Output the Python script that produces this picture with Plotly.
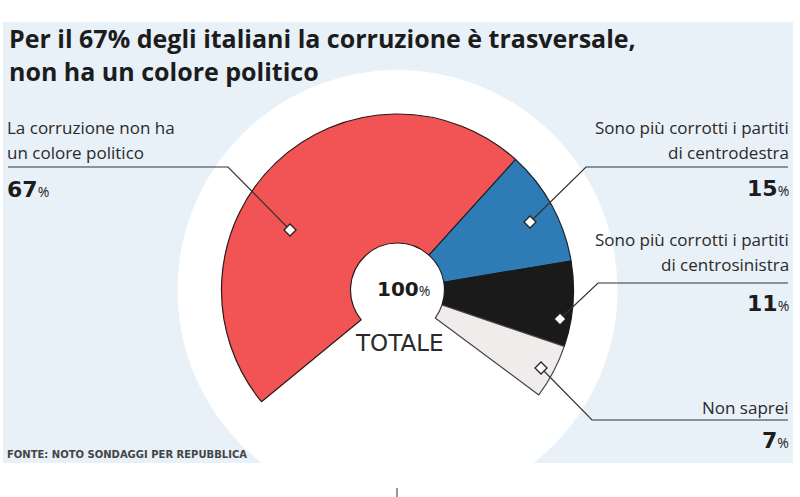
import plotly.graph_objects as go

# ---- data ----
categories = ["La corruzione non ha un colore politico",
              "Sono più corrotti i partiti di centrodestra",
              "Sono più corrotti i partiti di centrosinistra",
              "Non saprei"]
values = [67, 15, 11, 7]
colors = ["#f25455", "#2f7bb6", "#1b1a1a", "#efeceb"]
title_lines = ["Per il 67% degli italiani la corruzione è trasversale,",
               "non ha un colore politico"]
source = "FONTE: NOTO SONDAGGI PER REPUBBLICA"

# ---- layout constants (page pixel space) ----
W, H = 800, 497
cx, cy = 397.5, 290.0       # pie centre
R_out, R_in = 176.0, 47.0
sweep = 256.0               # degrees covered by the 100%
start = 230.6               # compass angle where first slice starts
total = sum(values)
gap = total * (360.0 / sweep - 1.0)

fig = go.Figure()

fig.add_trace(go.Pie(
    values=values + [gap],
    labels=categories + [""],
    sort=False,
    direction="clockwise",
    rotation=start,
    hole=R_in / R_out,
    textinfo="none",
    hoverinfo="skip",
    showlegend=False,
    marker=dict(colors=colors + ["rgba(0,0,0,0)"],
                line=dict(color=["#2a1a1a", "#1b2530", "#1b1a1a", "#444444", "rgba(0,0,0,0)"],
                          width=[1.2, 1.2, 1.2, 1.2, 0])),
    domain=dict(x=[(cx - R_out) / W, (cx + R_out) / W],
                y=[(H - cy - R_out) / H, (H - cy + R_out) / H]),
))

shapes = []
shapes.append(dict(type="rect", x0=3, x1=793, y0=22, y1=463, xref="x", yref="y",
                   fillcolor="#e8f0f8", line=dict(width=0), layer="below"))
Rw = 220
shapes.append(dict(type="circle", x0=cx - Rw, x1=cx + Rw, y0=cy - Rw, y1=cy + Rw,
                   xref="x", yref="y", fillcolor="white", line=dict(width=0), layer="below"))
shapes.append(dict(type="line", x0=397, x1=397, y0=488, y1=497, xref="x", yref="y",
                   line=dict(color="#999999", width=2), layer="above"))

leaders = [
    [(8, 167), (228, 167), (290, 230)],
    [(788, 167), (586, 167), (530, 222)],
    [(788, 283), (598, 283), (560, 319)],
    [(788, 420), (592, 420), (541, 368)],
]
for pts in leaders:
    path = "M {} {} L {} {} L {} {}".format(pts[0][0], pts[0][1], pts[1][0], pts[1][1],
                                           pts[2][0], pts[2][1])
    shapes.append(dict(type="path", path=path, xref="x", yref="y",
                       line=dict(color="#333333", width=1.2), layer="above"))
d = 6
for pts in leaders:
    x, y = pts[2]
    path = "M {} {} L {} {} L {} {} L {} {} Z".format(x, y - d, x + d, y, x, y + d, x - d, y)
    shapes.append(dict(type="path", path=path, xref="x", yref="y",
                       fillcolor="white", line=dict(color="#222222", width=1.3), layer="above"))

ann = []
def txt(x, y, s, size, anchor="left", color="#2a2a2a", family="Open Sans", ya="middle", align=None):
    if anchor == "left":
        x -= 3
    elif anchor == "right":
        x += 3
    a = dict(x=x, y=y, xref="x", yref="y", text=s, showarrow=False,
             xanchor=anchor, yanchor=ya,
             font=dict(family=family, size=size, color=color))
    if align:
        a["align"] = align
    ann.append(a)

# title (one text block, two lines)
txt(10, 54, "<b>" + "<br>".join(title_lines) + "</b>", 25, color="#1c1c1c", align="left")

def pct(v, small=14):
    return ("<b>{}</b><span style='font-family:Open Sans;font-size:{}px;font-weight:normal'>%</span>"
            .format(v, small))

LBL = 17
NUM = dict(family="DejaVu Sans", color="#1c1c1c")
txt(8, 127, "La corruzione non ha", LBL)
txt(8, 152, "un colore politico", LBL)
txt(8, 189, pct(values[0]), 22, **NUM)
txt(788, 127, "Sono più corrotti i partiti", LBL, anchor="right")
txt(788, 152, "di centrodestra", LBL, anchor="right")
txt(788, 188, pct(values[1]), 22, anchor="right", **NUM)
txt(788, 239, "Sono più corrotti i partiti", LBL, anchor="right")
txt(788, 264, "di centrosinistra", LBL, anchor="right")
txt(788, 303, pct(values[2]), 22, anchor="right", **NUM)
txt(788, 407, "Non saprei", LBL, anchor="right")
txt(788, 440, pct(values[3]), 22, anchor="right", **NUM)
txt(cx + 6, 289, pct(total), 20, anchor="center", **NUM)
txt(cx + 2, 343, "TOTALE", 23, anchor="center", family="DejaVu Sans", color="#2a2a2a")
txt(8, 454, "<b>" + source + "</b>", 10, family="DejaVu Sans", color="#444444")

fig.update_layout(
    width=W, height=H,
    margin=dict(l=0, r=0, t=0, b=0),
    paper_bgcolor="white", plot_bgcolor="white",
    xaxis=dict(range=[0, W], visible=False, fixedrange=True),
    yaxis=dict(range=[H, 0], visible=False, fixedrange=True),
    shapes=shapes, annotations=ann,
    showlegend=False,
)

fig.write_html("out.html", config={"displayModeBar": False},
               post_script="document.body.style.margin='0';")
